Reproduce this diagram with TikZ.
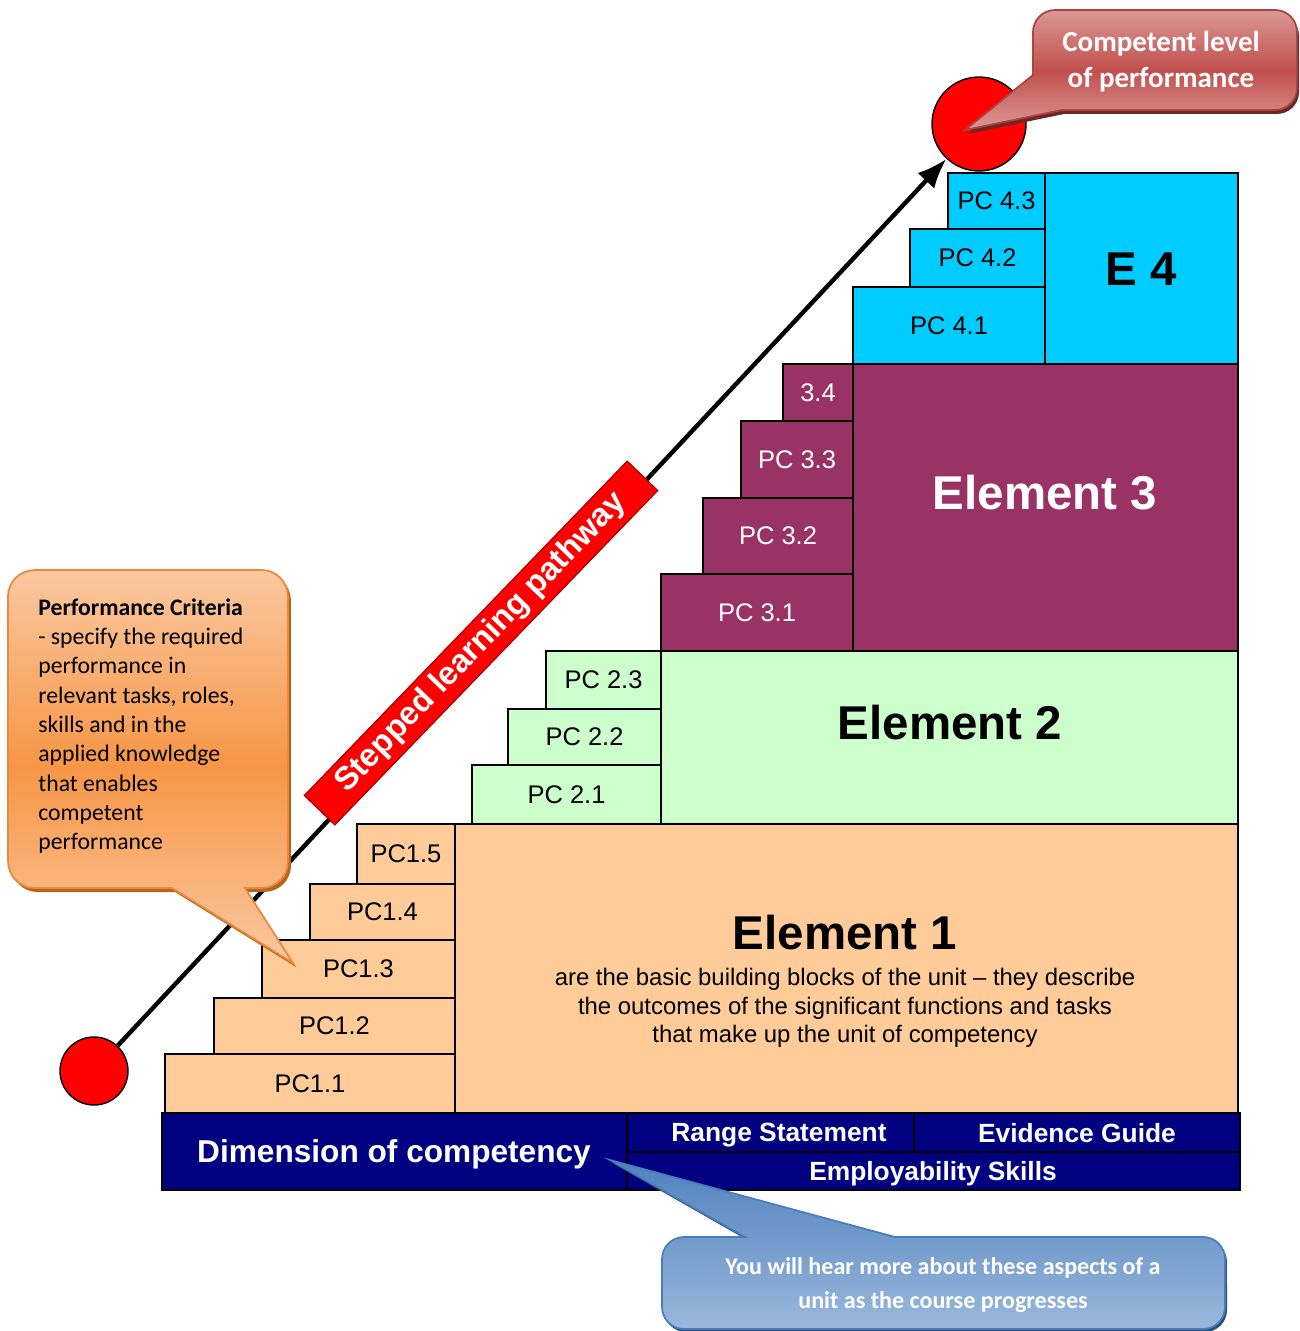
\documentclass[tikz,border=0pt]{standalone}
\usepackage{fontspec}
\setmainfont{Liberation Sans}
\newfontfamily\callfont{Carlito}
\usepackage{tikz}
\usetikzlibrary{arrows.meta}
\tikzset{>={Latex[width=13pt,length=17pt]}}

\definecolor{peach}{HTML}{FFCC99}
\definecolor{mint}{HTML}{CCFFCC}
\definecolor{plum}{HTML}{993366}
\definecolor{sky}{HTML}{00CCFF}
\definecolor{navyblue}{HTML}{000080}
\definecolor{ortop}{HTML}{FAC8A0}
\definecolor{ormid}{HTML}{F79646}
\definecolor{orline}{HTML}{E98A3C}
\definecolor{orshadow}{HTML}{B7641F}
\definecolor{rdtop}{HTML}{DC9896}
\definecolor{rdmid}{HTML}{C0504D}
\definecolor{rdline}{HTML}{A84442}
\definecolor{rdshadow}{HTML}{6E2725}
\definecolor{bltop}{HTML}{4F81BD}
\definecolor{blbot}{HTML}{9AB8DC}
\definecolor{blline}{HTML}{4A7EBB}
\definecolor{blshadow}{HTML}{2C4D75}

\tikzset{
  boxline/.style={draw=black, line width=1.1pt},
  pclabel/.style={font=\fontsize{14.5}{17}\selectfont, inner sep=0pt},
  eltitle/.style={font=\fontsize{27}{31}\selectfont\bfseries, inner sep=0pt},
  eltext/.style={font=\fontsize{13.6}{16.2}\selectfont, align=center, inner sep=0pt},
  navybox/.style={boxline, fill=navyblue},
  navylabel/.style={text=white, font=\fontsize{15}{18}\selectfont\bfseries, inner sep=0pt},
  redball/.style={circle, draw=black, line width=0.8pt, fill=red, inner sep=0pt},
  banner/.style={fill=red, draw=red!60!black, line width=0.6pt, text=white,
    font=\fontsize{18.5}{20}\selectfont\bfseries, minimum width=9.3cm,
    minimum height=0.85cm, inner sep=0pt},
  calltext/.style={font=\callfont\fontsize{13.5}{16.7}\selectfont, inner sep=0pt},
}

\begin{document}
\begin{tikzpicture}[x=0.02cm, y=-0.02cm]
  \useasboundingbox (0,0) rectangle (1300,1331);

  \newcommand\pcbox[8]{%
    \draw[boxline, fill=#2] (#4,#5) rectangle (#6,#7);
    \node[pclabel, text=#3] (#1) at ({(#4+#6)/2}, {(#5+#7)/2}) {#8};}

  %% element 1
  \draw[boxline, fill=peach] (455,824) rectangle (1238,1113);
  \node[eltitle] (el1) at (845,933) {Element 1};
  \node[eltext] (el1text) at (845,1008) {are the basic building blocks of the unit -- they describe\\
    the outcomes of the significant functions and tasks\\
    that make up the unit of competency};
  \pcbox{pc11}{peach}{black}{165}{1054}{455}{1113}{PC1.1}
  \pcbox{pc12}{peach}{black}{214}{998}{455}{1054}{PC1.2}
  \pcbox{pc13}{peach}{black}{262}{940}{455}{998}{PC1.3}
  \pcbox{pc14}{peach}{black}{310}{884}{455}{940}{PC1.4}
  \pcbox{pc15}{peach}{black}{357}{824}{455}{884}{PC1.5}

  %% element 2
  \draw[boxline, fill=mint] (661,651) rectangle (1238,824);
  \node[eltitle] (el2) at (950,723) {Element 2};
  \pcbox{pc21}{mint}{black}{472}{765}{661}{824}{PC 2.1}
  \pcbox{pc22}{mint}{black}{508}{709}{661}{765}{PC 2.2}
  \pcbox{pc23}{mint}{black}{546}{651}{661}{709}{PC 2.3}

  %% element 3
  \draw[boxline, fill=plum] (853,364) rectangle (1238,651);
  \node[eltitle, text=white] (el3) at (1045,493) {Element 3};
  \pcbox{pc31}{plum}{white}{661}{574}{853}{651}{PC 3.1}
  \pcbox{pc32}{plum}{white}{703}{498}{853}{574}{PC 3.2}
  \pcbox{pc33}{plum}{white}{741}{421}{853}{498}{PC 3.3}
  \pcbox{pc34}{plum}{white}{783}{364}{853}{421}{3.4}

  %% element 4
  \draw[boxline, fill=sky] (1045,173) rectangle (1238,364);
  \node[eltitle] (el4) at (1141,269) {E 4};
  \pcbox{pc41}{sky}{black}{853}{287}{1045}{364}{PC 4.1}
  \pcbox{pc42}{sky}{black}{910}{229}{1045}{287}{PC 4.2}
  \pcbox{pc43}{sky}{black}{948}{173}{1045}{229}{PC 4.3}

  %% dimension bar
  \draw[navybox] (162,1113) rectangle (627,1190);
  \node[navylabel, font=\fontsize{18}{20}\selectfont\bfseries] (dim) at (394,1154) {Dimension of competency};
  \draw[navybox] (627,1113) rectangle (914,1152);
  \node[navylabel] (range) at (779,1135) {Range Statement};
  \draw[navybox] (914,1113) rectangle (1240,1152);
  \node[navylabel] (evidence) at (1077,1133) {Evidence Guide};
  \draw[navybox] (627,1152) rectangle (1240,1190);
  \node[navylabel] (employ) at (933,1174) {Employability Skills};

  %% pathway
  \node[redball, minimum size=1.36cm] (start) at (94,1071) {};
  \node[redball, minimum size=1.88cm] (goal) at (979,124) {};
  \draw[->, line width=2.5pt] (start) -- (goal);
  \node[banner, rotate=46] (pathway) at (481,643) {Stepped learning pathway};

  %% callouts
  \newcommand\orangepath{(34.46,570) -- (261.54,570) arc[start angle=90, end angle=0, radius=15pt]
    -- (288,861.54) arc[start angle=0, end angle=-90, radius=15pt]
    -- (245,888) -- (293,963) -- (172,888)
    -- (34.46,888) arc[start angle=-90, end angle=-180, radius=15pt]
    -- (8,596.46) arc[start angle=180, end angle=90, radius=15pt] -- cycle}
  \fill[orshadow, shift={(3,4)}] \orangepath;
  \shadedraw[top color=ortop, bottom color=ortop, middle color=ormid, draw=orline, line width=1pt] \orangepath;
  \node[calltext, anchor=north west, align=left] (crit) at (38,598) {\textbf{Performance Criteria}\\
    - specify the required\\ performance in\\ relevant tasks, roles,\\ skills and in the\\
    applied knowledge\\ that enables\\ competent\\ performance};

  \newcommand\redpath{(1055,10) -- (1275,10) arc[start angle=90, end angle=0, radius=12.5pt]
    -- (1297,88) arc[start angle=0, end angle=-90, radius=12.5pt]
    -- (1062,110) -- (965,130) -- (1033,75)
    -- (1033,32) arc[start angle=180, end angle=90, radius=12.5pt] -- cycle}
  \fill[rdshadow, shift={(2,4)}] \redpath;
  \shadedraw[top color=rdtop, bottom color=rdtop, middle color=rdmid, draw=rdline, line width=1pt] \redpath;
  \node[calltext, text=white, align=center, font=\callfont\fontsize{16.5}{20.4}\selectfont\bfseries] (comp) at (1161,62) {Competent level\\ of performance};

  \newcommand\bluepath{(684,1237) -- (745,1237) -- (610,1160) -- (895,1237)
    -- (1203,1237) arc[start angle=90, end angle=0, radius=12.5pt]
    -- (1225,1307) arc[start angle=0, end angle=-90, radius=12.5pt]
    -- (684,1329) arc[start angle=-90, end angle=-180, radius=12.5pt]
    -- (662,1259) arc[start angle=180, end angle=90, radius=12.5pt] -- cycle}
  \fill[blshadow, shift={(2,3)}] \bluepath;
  \shadedraw[top color=bltop, bottom color=blbot, draw=blline, line width=1pt] \bluepath;
  \node[calltext, text=white, align=center, font=\callfont\fontsize{13.7}{19.3}\selectfont\bfseries] (hear) at (943,1285) {You will hear more about these aspects of a\\ unit as the course progresses};
\end{tikzpicture}
\end{document}
